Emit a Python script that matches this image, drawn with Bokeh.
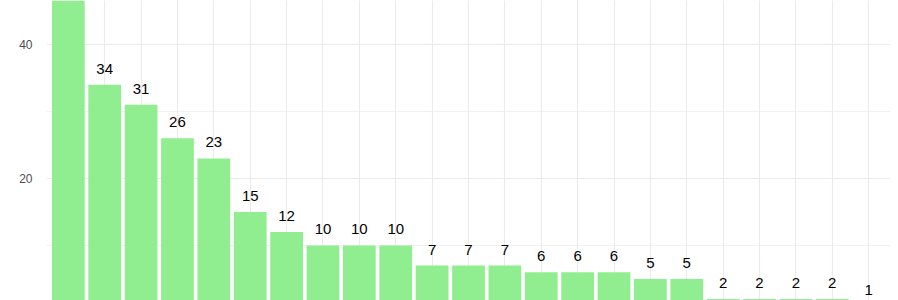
from bokeh.plotting import figure
from bokeh.models import Range1d, FactorRange, FixedTicker, CategoricalTicker, Grid, ColumnDataSource
from bokeh.core.properties import value
from bokeh.embed import file_html
from bokeh.resources import INLINE

# Data (categories are ranks; category names are off-screen in the reference)
categories = [str(i) for i in range(1, 24)]
counts = [52, 34, 31, 26, 23, 15, 12, 10, 10, 10, 7, 7, 7, 6, 6, 6, 5, 5, 2, 2, 2, 2, 1]
labels = [str(c) for c in counts]
y_major_ticks = [20, 40]
y_minor_ticks = [10, 30]

bars = ColumnDataSource(dict(cat=categories, n=counts))
# the first bar's label lies above the visible window in the reference
lab_src = ColumnDataSource(dict(cat=categories[1:], n=counts[1:], lab=labels[1:]))

p = figure(width=898, height=300, output_backend="svg", toolbar_location=None,
           x_range=FactorRange(factors=categories, range_padding=0.1, range_padding_units="absolute"),
           y_range=Range1d(1.79, 46.57),
           x_axis_location=None, min_border_left=46, min_border_right=8,
           min_border_top=0, min_border_bottom=0)
p.outline_line_color = None
p.background_fill_color = "white"
p.border_fill_color = "white"

# y axis
ax = p.yaxis[0]
ax.ticker = FixedTicker(ticks=y_major_ticks, minor_ticks=y_minor_ticks)
ax.axis_line_color = None
ax.major_tick_line_color = None
ax.minor_tick_line_color = None
ax.major_label_standoff = 8
ax.major_label_text_color = "#4D4D4D"
ax.major_label_text_font = "Liberation Sans"
ax.major_label_text_font_size = "12px"

p.ygrid.grid_line_color = "#EBEBEB"
p.ygrid.grid_line_width = 1.1
p.ygrid.minor_grid_line_color = "#EBEBEB"
p.ygrid.minor_grid_line_width = 0.7

xg = Grid(dimension=0, ticker=CategoricalTicker(), grid_line_color="#EBEBEB", grid_line_width=1.1)
p.add_layout(xg)

p.vbar(x="cat", top="n", bottom=0, width=0.9, source=bars, fill_color="#90EE90", line_color=None)
p.text(x="cat", y="n", text="lab", source=lab_src, text_align="center", text_baseline="middle",
       y_offset=-16, text_font=value("Liberation Sans"), text_font_size="15px", text_color="black")

open("out.html", "w").write(file_html(p, INLINE))
